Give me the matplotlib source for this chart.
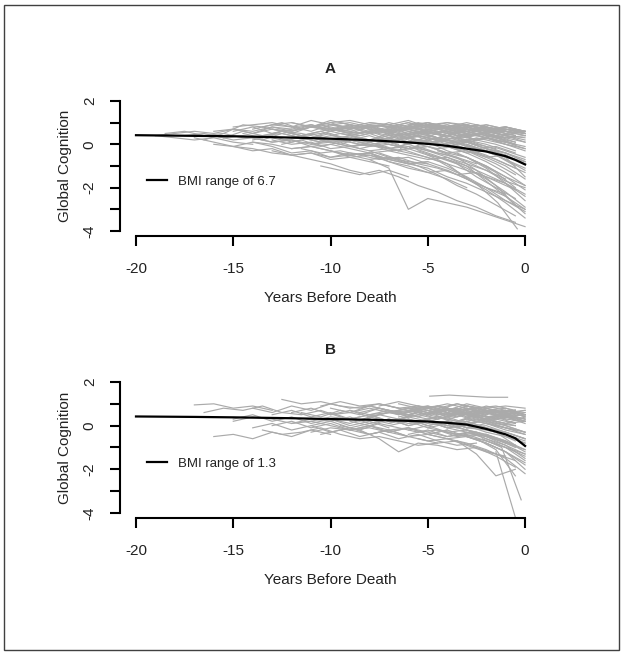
import numpy as np
import matplotlib
matplotlib.use("Agg")
import matplotlib.pyplot as plt
from matplotlib.patches import Rectangle

plt.rcParams['font.family'] = ['Liberation Sans', 'DejaVu Sans']
plt.rcParams['axes.unicode_minus'] = False

# 每条灰线: 起始年份 + 每年一次随访的认知得分
a_start = [-19, -19, -18.5, -17, -16.5, -16, -16, -15.5, -15, -15,
           -14.5, -14, -14, -13.5, -13, -13, -12.5, -12, -12, -11.5,
           -11, -11, -10.5, -10, -10, -9.5, -9, -9, -8.5, -8,
           -8, -8, -7, -7, -6.5, -6.4, -6, -5.5, -5, -5,
           -4.5, -4, -4, -3.5, -3, -3, -12, -14, -10, -8,
           -6, -11, -9, -5, -13, -2, -7, -4, -2.5, -10,
           -15, -14, -13, -12.5, -12, -11.5, -11, -10.5, -10, -9.5,
           -9, -9, -8.5, -8, -8, -7.5, -7.5, -7, -7, -6.5,
           -6, -6, -5.5, -5.5, -5, -5, -4.5, -4.5, -4, -4,
           -3.5, -3.5, -3, -3, -2.5, -2, -14, -13.5, -16, -17.5,
           -10, -6, -12, -8, -5, -2.5]
a_vals = [
    [0.4, 0.5, 0.6, 0.5, 0.7, 0.6, 0.8, 0.7],
    [0.4, 0.3, 0.2, 0.3, 0.1, 0.0],
    [0.5, 0.6, 0.4, 0.5, 0.3, 0.4, 0.2, 0.3, 0.1],
    [0.3, 0.1, -0.1, -0.2, -0.4, -0.5, -0.7, -0.9, -1.2, -1.4, -1.2, -1.5],
    [0.2, 0.5, 0.9, 0.8, 1.0, 0.7, 0.9, 0.6, 0.8],
    [0.0, -0.1, -0.3, -0.2, -0.5, -0.4, -0.7, -0.6, -0.8, -1.0],
    [0.6, 0.7, 0.5, 0.8, 0.6, 0.9, 0.7, 0.5, 0.6, 0.4, 0.5, 0.3, 0.2, 0.0, -0.3],
    [0.3, 0.4, 0.2, 0.5, 0.3, 0.1, 0.2, 0.0, -0.1, -0.3],
    [0.8, 0.9, 1.0, 0.8, 0.9, 0.7, 0.8, 0.6, 0.7, 0.5],
    [-0.1, 0.1, 0.0, -0.2, -0.1, -0.3, -0.6, -0.5, -0.8, -1.1, -1.3, -1.6, -2.0],
    [0.5, 0.3, 0.6, 0.4, 0.2, 0.3, 0.1, 0.2, 0.0],
    [0.7, 0.9, 0.8, 1.1, 0.9, 1.0, 0.8, 0.9, 0.7, 0.8, 0.6, 0.5],
    [0.1, -0.1, -0.4, -0.3, -0.6, -0.4, -0.5, -0.7, -0.9, -0.8],
    [0.4, 0.6, 0.5, 0.3, 0.5, 0.4, 0.6, 0.3, 0.4, 0.2, 0.3, 0.0, -0.2],
    [0.9, 1.0, 0.8, 1.0, 1.1, 0.9, 0.8, 1.0, 0.7, 0.8],
    [0.2, 0.0, 0.1, -0.2, -0.1, -0.3, -0.2, -0.4, -0.6, -0.9, -1.2, -1.5, -1.8, -2.3],
    [0.6, 0.4, 0.5, 0.7, 0.5, 0.6, 0.4, 0.5, 0.3],
    [0.3, 0.5, 0.2, 0.4, 0.1, 0.3, 0.0, 0.2, -0.1, -0.2],
    [0.8, 0.6, 0.9, 0.7, 0.8, 0.6, 0.7, 0.5, 0.6, 0.4, 0.5, 0.3],
    [-0.2, -0.4, -0.3, -0.5, -0.7, -0.6, -0.9, -1.1, -1.4, -1.3, -1.7, -2.1],
    [0.5, 0.7, 0.6, 0.8, 0.6, 0.7, 0.9, 0.7, 0.8, 0.6, 0.4],
    [0.0, 0.2, 0.1, -0.1, 0.0, -0.2, -0.1, -0.4, -0.3, -0.6, -0.5],
    [-1.0, -1.2, -1.4, -1.2, -1.5, -1.9, -2.2, -2.6, -2.9, -3.3, -3.6],
    [0.9, 0.8, 1.0, 0.9, 0.7, 0.9, 0.8, 1.0, 0.8, 0.6],
    [0.4, 0.3, 0.5, 0.2, 0.3, 0.1, 0.2, -0.1, -0.3, -0.6, -0.8],
    [0.6, 0.5, 0.7, 0.4, 0.6, 0.3, 0.5, 0.2, 0.3, 0.0],
    [0.2, 0.0, -0.2, -0.1, -0.4, -0.7, -1.0, -1.4, -1.8, -2.4],
    [0.7, 0.9, 0.8, 1.0, 0.8, 0.9, 0.7, 0.8, 0.6, 0.5],
    [0.3, 0.1, 0.4, 0.2, 0.0, 0.1, -0.2, -0.1, -0.4],
    [-0.3, -0.6, -0.9, -1.1, -1.5, -1.8, -2.2, -2.6, -3.0],
    [0.5, 0.6, 0.4, 0.7, 0.5, 0.6, 0.4, 0.3, 0.1],
    [-0.7, -1.1, -3.0, -2.5, -2.7, -2.9, -3.2, -3.5, -3.8],
    [0.8, 0.7, 0.9, 1.0, 0.8, 0.9, 0.7, 0.6],
    [0.1, 0.3, 0.0, 0.2, -0.1, -0.3, -0.5, -0.9],
    [0.4, 0.2, 0.5, 0.3, 0.4, 0.2, 0.0],
    [-0.2, -0.5, -0.8, -1.3, -1.9, -2.7, -3.9],
    [0.6, 0.8, 0.7, 0.9, 0.7, 0.6, 0.5],
    [0.0, -0.2, -0.1, -0.5, -0.9, -1.4],
    [0.9, 0.7, 0.8, 0.6, 0.7, 0.5],
    [0.3, 0.1, 0.2, -0.1, -0.4, -0.8],
    [-0.3, -0.6, -1.2, -1.9, -2.8],
    [0.5, 0.7, 0.6, 0.4, 0.3],
    [-0.1, -0.4, -0.3, -0.7, -1.1],
    [0.7, 0.5, 0.6, 0.4],
    [0.2, 0.0, -0.3, -0.6],
    [-0.6, -1.1, -1.8, -2.6],
    [-0.2, -0.1, -0.3, -0.5, -0.4, -0.8, -1.0, -1.3, -1.2, -1.6, -2.0, -2.3],
    [0.5, 0.7, 0.6, 0.8, 0.7, 0.9, 0.8, 0.6, 0.7, 0.5, 0.6, 0.4, 0.5, 0.2],
    [0.1, -0.1, 0.0, -0.3, -0.2, -0.5, -0.7, -1.1, -1.6, -2.2, -2.9],
    [1.0, 0.9, 1.1, 0.8, 1.0, 0.9, 0.7, 0.8, 0.6],
    [0.3, 0.5, 0.4, 0.2, 0.3, 0.1, -0.2],
    [0.3, 0.1, 0.2, 0.0, 0.1, -0.2, -0.1, -0.4, -0.6, -1.0, -1.5, -1.9],
    [-0.5, -0.4, -0.7, -0.6, -0.9, -1.2, -1.6, -2.1, -2.7, -3.4],
    [-0.5, -0.9, -1.6, -2.0, -2.4, -3.2],
    [-0.3, -0.5, -0.4, -0.6, -0.5, -0.7, -0.6, -0.8, -0.9],
    [0.5, 0.6, 0.4],
    [0.5, 0.3, 0.4, 0.2, 0.1, -0.2, -0.4, -0.7],
    [0.8, 0.9, 0.7, 0.8, 0.6],
    [-0.2, -0.5, -1.0],
    [0.6, 0.8, 0.5, 0.7, 0.9, 0.6, 0.8, 0.5, 0.7, 0.4, 0.2],
    [0.6, 0.8, 0.5, 0.7, 0.9, 0.6, 0.8, 0.5, 0.7, 0.4, 0.6, 0.3],
    [0.2, 0.4, 0.1, 0.3, 0.5, 0.2, 0.4, 0.1, 0.3, 0.0, 0.2],
    [0.7, 0.5, 0.8, 0.6, 0.9, 0.7, 0.5, 0.8, 0.6, 0.4, 0.6, 0.3, 0.1],
    [0.0, 0.2, -0.1, 0.1, -0.2, 0.0, -0.3, -0.1, -0.4, -0.6, -0.9],
    [1.0, 0.8, 1.1, 0.9, 0.7, 1.0, 0.8, 0.9, 0.6, 0.8, 0.5],
    [0.4, 0.6, 0.3, 0.5, 0.7, 0.4, 0.6, 0.3, 0.5, 0.2, 0.4, 0.1],
    [0.8, 1.0, 0.7, 0.9, 0.6, 0.8, 1.0, 0.7, 0.9, 0.6, 0.8, 0.5],
    [0.2, 0.0, 0.3, 0.1, -0.1, 0.2, 0.0, -0.2, -0.4, -0.7, -1.1],
    [0.7, 0.5, 0.8, 0.6, 0.4, 0.7, 0.5, 0.3, 0.6, 0.4, 0.1],
    [1.0, 0.8, 0.9, 0.7, 1.0, 0.8, 0.6, 0.9, 0.7, 0.5],
    [0.4, 0.6, 0.3, 0.5, 0.2, 0.4, 0.1, 0.3, 0.0, -0.2],
    [-0.1, 0.1, -0.2, 0.0, -0.3, -0.5, -0.8, -1.2, -1.7, -2.0],
    [0.8, 0.6, 0.9, 0.7, 0.5, 0.8, 0.6, 0.4, 0.5],
    [0.2, 0.4, 0.1, 0.3, 0.0, -0.2, -0.5, -0.9, -1.3],
    [0.6, 0.8, 0.5, 0.7, 0.9, 0.6, 0.8, 0.5, 0.6],
    [0.3, 0.1, 0.4, 0.2, 0.0, 0.3, 0.1, -0.1],
    [-0.4, -0.7, -1.0, -1.4, -1.9, -2.3, -2.8, -3.3],
    [0.9, 0.7, 1.0, 0.8, 0.6, 0.9, 0.7, 0.5],
    [0.0, -0.2, 0.1, -0.3, -0.6, -1.0, -1.5, -2.1],
    [0.7, 0.5, 0.8, 0.6, 0.4, 0.7, 0.5],
    [0.2, 0.0, 0.3, 0.1, -0.2, -0.5, -0.9],
    [0.9, 1.0, 0.8, 0.9, 0.7, 0.8, 0.6],
    [0.5, 0.7, 0.4, 0.6, 0.3, 0.5],
    [-0.3, -0.6, -0.9, -1.5, -2.0, -2.5],
    [0.6, 0.4, 0.7, 0.5, 0.3, 0.4],
    [0.1, -0.1, -0.4, -0.8, -1.3, -1.9],
    [0.8, 0.6, 0.9, 0.7, 0.5],
    [0.3, 0.5, 0.2, 0.0, -0.3],
    [0.1, -0.2, -0.6, -1.0, -1.6],
    [0.7, 0.5, 0.8, 0.6, 0.4],
    [0.4, 0.2, 0.5, 0.3],
    [-0.4, -0.8, -1.3, -2.0],
    [0.8, 0.6, 0.7, 0.5],
    [0.0, -0.3, -0.7, -1.2],
    [0.5, 0.3, 0.1],
    [-0.2, -0.6, -1.5],
    [0.3, 0.1, 0.2, -0.1, 0.0, -0.2, -0.4, -0.3, -0.5, -0.7, -0.6, -0.9, -1.2, -1.6],
    [0.8, 0.6, 0.7, 0.9, 0.7, 0.8, 0.6, 0.7, 0.5, 0.6, 0.4, 0.5, 0.3, 0.0],
    [0.4, 0.2, 0.3, 0.1, 0.2, 0.0, 0.1, -0.1, 0.0, -0.2],
    [0.4, 0.5, 0.3, 0.6, 0.4, 0.5, 0.3],
    [-0.3, -0.5, -0.4, -0.7, -0.9, -0.8, -1.1, -1.5, -2.0, -2.6, -3.1],
    [-0.1, -0.3, -0.6, -1.0, -1.7, -2.4, -3.0],
    [0.5, 0.3, 0.6, 0.4, 0.2, 0.5, 0.3, 0.6, 0.4, 0.2, 0.3, 0.0, -0.3],
    [0.1, 0.3, 0.0, 0.2, -0.1, 0.1, -0.2, -0.4, -0.8],
    [0.4, 0.2, 0.5, 0.3, 0.1, -0.1],
    [0.7, 0.6, 0.4],
]

b_start = [-17, -16, -16.5, -15, -14, -13.5, -13, -12.5, -12, -11.5,
           -11, -10.5, -10, -9.5, -9, -8.5, -8, -7.5, -7, -6.5,
           -6, -6, -5.5, -4.9, -5, -5, -4.5, -4, -1.5, -2.2,
           -3.5, -3, -3, -10, -9, -7, -6, -5, -4, -4,
           -3.5, -2.5, -2, -8, -11, -6.5, -5.5, -3, -7, -4.5,
           -13, -2, -6,
           -12, -11, -10, -9.5, -9, -8.5, -8, -7.5, -7, -7,
           -6.5, -6, -6, -5.5, -5.5, -5, -5, -4.5, -4.5, -4,
           -4, -3.5, -3.5, -3, -3, -2.5, -2.5, -2, -2, -1.5,
           -1.5, -15, -14, -10.5, -8, -6, -4, -3, -2.5, -5]
b_vals = [
    [0.95, 1.0, 0.8, 0.9, 0.7],
    [-0.5, -0.4, -0.6, -0.3, -0.5, -0.2, -0.4],
    [0.6, 0.8, 0.7, 0.9, 0.6, 0.5, 0.7, 0.4],
    [0.2, 0.4, 0.3, 0.1, 0.2, 0.0, -0.2, -0.1, -0.3],
    [0.8, 0.6, 0.9, 0.7, 1.0, 0.8, 0.9, 0.7, 0.6, 0.8, 0.5],
    [-0.2, -0.4, -0.3, -0.1, -0.4, -0.6, -0.5, -0.7, -0.9, -0.8],
    [0.5, 0.7, 0.4, 0.6, 0.3, 0.5, 0.2, 0.4],
    [1.2, 1.0, 1.1, 0.9, 0.8, 1.0, 0.8],
    [0.1, 0.3, 0.2, 0.4, 0.1, 0.3, 0.0, 0.2, -0.1, -0.3, -0.5, -0.8],
    [0.6, 0.4, 0.7, 0.5, 0.8, 0.6, 0.7, 0.5, 0.6, 0.4],
    [-0.3, -0.1, -0.2, -0.4, -0.2, -0.5, -0.7, -0.6, -0.9, -1.2, -1.4],
    [0.9, 1.1, 0.9, 1.0, 0.8, 0.9, 0.7, 0.8, 0.6, 0.7],
    [0.3, 0.1, 0.4, 0.2, 0.3, 0.0, 0.2, -0.1, -0.2, -0.4, -0.7],
    [0.0, -0.2, 0.1, -0.1, -0.3, -0.2, -0.5, -0.4, -0.6, -0.9],
    [0.7, 0.5, 0.6, 0.8, 0.6, 0.7, 0.5, 0.6, 0.4, 0.5],
    [-0.2, -0.6, -1.2, -0.8, -0.9, -1.1, -1.0, -1.3, -1.6],
    [0.4, 0.6, 0.5, 0.7, 0.4, 0.6, 0.3, 0.5, 0.2],
    [0.9, 1.1, 0.9, 0.8, 1.0, 0.8, 0.9, 0.7],
    [0.1, 0.3, 0.0, 0.2, -0.1, 0.1, -0.2, -0.4],
    [0.6, 0.4, 0.7, 0.5, 0.6, 0.3, 0.4],
    [-0.4, -0.2, -0.5, -0.3, -0.6, -0.9, -1.3],
    [0.8, 0.9, 0.7, 1.0, 0.8, 0.6, 0.7],
    [0.2, 0.4, 0.1, 0.3, 0.0, -0.2],
    [1.35, 1.4, 1.35, 1.3, 1.3],
    [0.5, 0.7, 0.6, 0.4, 0.5, 0.2],
    [-0.1, -0.3, -0.2, -0.6, -1.0, -1.6],
    [0.9, 0.7, 0.8, 0.6, 0.7],
    [0.3, 0.1, 0.2, -0.1, -0.3],
    [-1.2, -4.2],
    [-0.6, -1.0, -3.4],
    [-0.7, -1.3, -2.3, -2.0],
    [0.6, 0.8, 0.5, 0.7],
    [-0.2, -0.5, -0.9, -1.5],
    [0.5, 0.6, 0.8, 0.6, 0.7, 0.5, 0.8, 0.6, 0.7, 0.5, 0.6],
    [0.2, 0.0, 0.3, 0.1, 0.2, -0.1, 0.0, -0.3, -0.5, -0.8],
    [0.6, 0.8, 0.7, 0.5, 0.6, 0.4, 0.5, 0.3],
    [0.3, 0.1, 0.2, -0.1, 0.0, -0.3, -0.6],
    [0.8, 0.6, 0.9, 0.7, 0.8, 0.5],
    [-0.3, -0.5, -0.4, -0.8, -1.1],
    [0.5, 0.6, 0.4, 0.5, 0.3],
    [0.2, 0.4, 0.1, 0.0],
    [0.7, 0.5, 0.6],
    [-0.4, -0.7, -1.2],
    [0.0, -0.2, -0.1, -0.3, -0.5, -0.4, -0.7, -1.0, -1.4],
    [0.2, 0.4, 0.3, 0.5, 0.2, 0.4, 0.6, 0.3, 0.5, 0.2, 0.4, 0.1],
    [1.0, 0.8, 0.9, 0.7, 0.8, 0.6, 0.7],
    [-0.6, -0.8, -0.7, -1.0, -1.4, -1.9],
    [0.9, 0.8, 0.9, 0.8],
    [-0.3, -0.5, -0.4, -0.6, -0.8, -1.1, -1.5, -2.2],
    [0.1, -0.1, 0.2, 0.0, -0.2],
    [0.0, 0.2, -0.1, 0.1, -0.2, 0.0, -0.3, -0.1, -0.4, -0.2],
    [0.3, 0.1, 0.4],
    [0.5, 0.3, 0.5, 0.6, 0.4, 0.3, 0.2],
    [0.6, 0.8, 0.5, 0.7, 0.4, 0.6, 0.8, 0.5, 0.7, 0.4, 0.6, 0.3],
    [0.0, 0.2, -0.1, 0.1, 0.3, 0.0, 0.2, -0.1, 0.1, -0.2, -0.4],
    [0.8, 0.6, 0.9, 0.7, 0.5, 0.8, 0.6, 0.9, 0.7, 0.5, 0.6],
    [0.4, 0.2, 0.5, 0.3, 0.6, 0.4, 0.2, 0.5, 0.3, 0.1],
    [-0.2, 0.0, -0.3, -0.1, -0.4, -0.2, -0.5, -0.7, -1.0, -1.3],
    [0.6, 0.8, 0.5, 0.7, 0.9, 0.6, 0.8, 0.5, 0.4],
    [0.3, 0.1, 0.4, 0.2, 0.0, 0.3, 0.1, -0.1, -0.4],
    [0.7, 0.5, 0.8, 0.6, 0.4, 0.7, 0.5, 0.3],
    [0.0, 0.2, -0.1, 0.1, -0.2, -0.4, -0.7, -1.1],
    [0.9, 0.7, 0.8, 1.0, 0.8, 0.6, 0.7, 0.5],
    [0.4, 0.6, 0.3, 0.5, 0.2, 0.4, 0.1],
    [0.7, 0.9, 0.6, 0.8, 0.5, 0.7, 0.4],
    [-0.2, 0.0, -0.3, -0.5, -0.8, -1.2, -1.7],
    [0.5, 0.3, 0.6, 0.4, 0.2, 0.0],
    [0.9, 0.7, 1.0, 0.8, 0.6, 0.7],
    [0.2, 0.4, 0.1, 0.3, 0.0, -0.3],
    [0.7, 0.5, 0.8, 0.6, 0.7, 0.4],
    [-0.2, -0.4, -0.3, -0.6, -0.9],
    [0.6, 0.8, 0.5, 0.7, 0.4],
    [0.8, 0.6, 0.9, 0.7, 0.5],
    [0.0, 0.2, -0.1, -0.3, -0.6],
    [0.6, 0.4, 0.7, 0.5],
    [-0.1, -0.3, -0.6, -1.0],
    [0.4, 0.2, 0.5, 0.3],
    [0.1, -0.1, -0.4, -0.8],
    [0.8, 0.6, 0.7],
    [0.0, -0.3, -0.7],
    [0.6, 0.4, 0.5],
    [0.2, 0.0, -0.3],
    [0.5, 0.3],
    [-0.3, -0.9],
    [0.3, 0.5, 0.2, 0.4, 0.1, 0.3, 0.0, 0.2, -0.1],
    [-0.1, 0.1, -0.2, 0.0, -0.3, -0.1, -0.4, -0.2, -0.5],
    [-0.4, -0.2, -0.5, -0.3, -0.6, -0.4, -0.7, -0.9, -0.8],
    [0.5, 0.7, 0.4, 0.6, 0.8, 0.5, 0.7, 0.4, 0.5],
    [0.1, 0.3, 0.0, 0.2, -0.1, -0.3, -0.6],
    [0.4, 0.6, 0.3, 0.1, 0.2],
    [-0.5, -0.8, -1.2, -1.8],
    [-0.6, -1.1, -2.3],
    [-0.4, -0.6, -0.5, -0.8, -1.2, -2.0],
]

# 平均轨迹 (黑线)
mean_years = [-20, -17, -15, -12, -10, -8, -6, -5, -4, -3, -2, -1, -0.5, 0]
a_mean = [0.42, 0.39, 0.37, 0.31, 0.26, 0.19, 0.09, 0.02, -0.07, -0.20, -0.33, -0.55, -0.72, -0.93]
b_mean = [0.42, 0.40, 0.38, 0.34, 0.30, 0.27, 0.22, 0.19, 0.13, 0.05, -0.15, -0.40, -0.58, -0.93]

panels = [("A", a_start, a_vals, a_mean, "BMI range of 6.7"),
          ("B", b_start, b_vals, b_mean, "BMI range of 1.3")]

txt = '#222222'

fig = plt.figure(figsize=(6.24, 6.55), dpi=100)
fig.patches.append(Rectangle((0.0072, 0.0076), 0.985, 0.985, transform=fig.transFigure,
                             fill=False, edgecolor='#404040', linewidth=1.0))

axes_pos = [[0.193, 0.6394, 0.6734, 0.2144], [0.193, 0.2089, 0.6734, 0.2159]]

for pos, (title, starts, vals, mean, lab) in zip(axes_pos, panels):
    ax = fig.add_axes(pos)
    for s, v in zip(starts, vals):
        yrs = s + np.arange(len(v))
        ax.plot(yrs, v, color='#aaaaaa', linewidth=0.85)
    ax.plot(mean_years, mean, color='black', linewidth=1.6, label=lab)

    ax.set_xlim(-20.8, 0.8)
    ax.set_ylim(-4.24, 2.24)
    for side in ['top', 'right']:
        ax.spines[side].set_visible(False)
    ax.spines['left'].set_bounds(-4, 2)
    ax.spines['bottom'].set_bounds(-20, 0)
    for side in ['left', 'bottom']:
        ax.spines[side].set_linewidth(1.5)

    ax.set_xticks([-20, -15, -10, -5, 0])
    ax.set_xticklabels(['-20', '-15', '-10', '-5', '0'])
    ax.set_yticks([2, 1, 0, -1, -2, -3, -4])
    ax.set_yticklabels(['2', '', '0', '', '-2', '', '-4'], rotation=90, va='center')
    ax.tick_params(direction='out', length=7, width=1.5, labelsize=11, labelcolor=txt)
    ax.tick_params(axis='x', pad=11.5)
    ax.tick_params(axis='y', pad=10)

    ax.text(0.5, 1.19, title, transform=ax.transAxes, ha='center', va='center',
            fontsize=11, fontweight='bold', color=txt)
    ax.text(-0.132, 0.5, 'Global Cognition', transform=ax.transAxes, rotation=90,
            ha='center', va='center', fontsize=11, color=txt)
    ax.text(0.5, -0.44, 'Years Before Death', transform=ax.transAxes,
            ha='center', va='center', fontsize=11, color=txt)

    leg = ax.legend(loc='center left', bbox_to_anchor=(0.063, 0.386), frameon=False,
                    borderaxespad=0, borderpad=0, handlelength=1.55, handletextpad=0.8,
                    fontsize=9.5)
    for t in leg.get_texts():
        t.set_color(txt)

fig.savefig('out.png', dpi=100)
